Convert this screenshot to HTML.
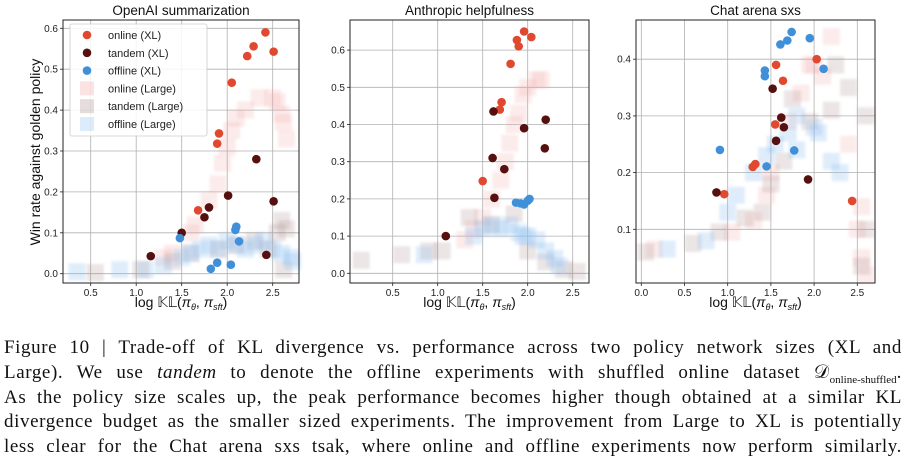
<!DOCTYPE html>
<html><head><meta charset="utf-8"><style>
body{margin:0;width:908px;height:466px;background:#fff;overflow:hidden;font-family:"Liberation Sans",sans-serif}
#cap{position:absolute;left:4px;top:336px;width:898px;font-family:"Liberation Serif",serif;font-size:19px;letter-spacing:0.6px;line-height:24.8px;color:#111}
#cap div{text-align:justify;text-align-last:justify;white-space:nowrap;height:24.8px}
#cap sub{font-size:11px;line-height:0;letter-spacing:0}
</style></head><body>
<svg id="chart" width="908" height="325" style="position:absolute;left:0;top:0" font-family="Liberation Sans, DejaVu Sans, sans-serif"></svg>
<div id="cap">
<div>Figure 10 | Trade-off of KL divergence vs. performance across two policy network sizes (XL and</div>
<div>Large). We use <i>tandem</i> to denote the offline experiments with shuffled online dataset 𝒟<sub>online-shuffled</sub>.</div>
<div>As the policy size scales up, the peak performance becomes higher though obtained at a similar KL</div>
<div>divergence budget as the smaller sized experiments. The improvement from Large to XL is potentially</div>
<div>less clear for the Chat arena sxs tsak, where online and offline experiments now perform similarly.</div>
</div>
<script>
// Panel 1: OpenAI summarization
const p1OnlineXL=[[1.68,0.155],[1.89,0.318],[1.91,0.343],[2.05,0.467],[2.22,0.532],[2.29,0.556],[2.42,0.59],[2.51,0.543]];
const p1TandemXL=[[1.16,0.043],[1.5,0.1],[1.75,0.138],[1.8,0.162],[2.01,0.191],[2.32,0.28],[2.43,0.046],[2.51,0.177]];
const p1OfflineXL=[[1.48,0.087],[1.82,0.012],[1.89,0.027],[2.04,0.022],[2.09,0.107],[2.1,0.115],[2.13,0.079]];
const p1OnlineL=[[1.3,0.04],[1.4,0.05],[1.6,0.1],[1.65,0.12],[1.8,0.18],[1.9,0.22],[1.95,0.27],[2.0,0.31],[2.05,0.35],[2.1,0.38],[2.2,0.4],[2.35,0.43],[2.5,0.43],[2.55,0.42],[2.6,0.39],[2.62,0.37],[2.65,0.33]];
const p1TandemL=[[0.55,0.003],[1.05,0.01],[1.4,0.03],[1.6,0.05],[1.9,0.06],[2.1,0.07],[2.3,0.08],[2.55,0.1],[2.6,0.13],[2.65,0.11],[2.62,0.01],[2.45,0.06]];
const p1OfflineL=[[0.35,0.005],[0.82,0.01],[1.1,0.01],[1.3,0.02],[1.5,0.04],[1.6,0.05],[1.7,0.06],[1.8,0.07],[1.9,0.06],[2.0,0.08],[2.1,0.07],[2.2,0.06],[2.3,0.07],[2.4,0.08],[2.5,0.06],[2.6,0.05],[2.7,0.04],[2.72,0.03]];
const p1XTicks=[0.5,1.0,1.5,2.0,2.5];
const p1YTicks=[0.0,0.1,0.2,0.3,0.4,0.5,0.6];
// Panel 2: Anthropic helpfulness
const p2OnlineXL=[[1.5,0.248],[1.69,0.44],[1.71,0.46],[1.81,0.563],[1.88,0.627],[1.9,0.61],[1.96,0.65],[2.04,0.635]];
const p2TandemXL=[[1.09,0.1],[1.61,0.31],[1.62,0.435],[1.63,0.203],[1.74,0.28],[1.96,0.39],[2.19,0.336],[2.2,0.413]];
const p2OfflineXL=[[1.87,0.19],[1.92,0.188],[1.96,0.185],[2.0,0.195],[2.02,0.2]];
const p2OnlineL=[[1.3,0.09],[1.4,0.12],[1.5,0.15],[1.6,0.2],[1.7,0.25],[1.75,0.3],[1.8,0.35],[1.85,0.4],[1.9,0.43],[1.95,0.48],[2.0,0.5],[2.1,0.52],[2.15,0.52]];
const p2TandemL=[[0.15,0.035],[0.6,0.05],[0.9,0.06],[1.05,0.06],[1.35,0.15],[1.6,0.13],[1.85,0.16],[2.0,0.06],[2.2,0.03],[2.4,0.01],[2.55,0.005]];
const p2OfflineL=[[0.85,0.05],[1.4,0.1],[1.5,0.12],[1.6,0.13],[1.7,0.12],[1.8,0.13],[1.9,0.11],[1.95,0.1],[2.0,0.1],[2.1,0.09],[2.2,0.06],[2.3,0.04],[2.35,0.02]];
const p2XTicks=[0.5,1.0,1.5,2.0,2.5];
const p2YTicks=[0.0,0.1,0.2,0.3,0.4,0.5,0.6];
// Panel 3: Chat arena sxs
const p3OnlineXL=[[0.96,0.162],[1.29,0.21],[1.32,0.215],[1.55,0.285],[1.56,0.39],[1.64,0.362],[2.03,0.4],[2.44,0.15]];
const p3TandemXL=[[0.87,0.165],[1.52,0.348],[1.62,0.297],[1.65,0.28],[1.93,0.188],[1.56,0.256]];
const p3OfflineXL=[[0.91,0.24],[1.43,0.37],[1.43,0.38],[1.61,0.426],[1.69,0.433],[1.74,0.448],[1.95,0.437],[2.11,0.383],[1.77,0.239],[1.45,0.211]];
const p3OnlineL=[[0.15,0.065],[1.05,0.095],[1.3,0.115],[1.45,0.16],[1.5,0.2],[1.7,0.29],[1.85,0.34],[1.95,0.39],[2.0,0.39],[2.1,0.37],[2.2,0.44],[2.4,0.25],[2.55,0.14],[2.5,0.1],[2.55,0.05],[2.6,0.02]];
const p3TandemL=[[0.05,0.06],[0.6,0.075],[0.9,0.095],[1.2,0.12],[1.4,0.13],[1.5,0.18],[1.65,0.22],[1.75,0.33],[1.95,0.29],[2.2,0.31],[2.25,0.39],[2.4,0.35],[2.6,0.3],[2.6,0.1],[2.55,0.035]];
const p3OfflineL=[[0.3,0.065],[0.75,0.08],[1.0,0.13],[1.1,0.16],[1.3,0.2],[1.45,0.23],[1.55,0.25],[1.7,0.27],[1.8,0.24],[2.0,0.28],[2.05,0.27],[2.2,0.22],[2.3,0.2],[1.8,0.3]];
const p3XTicks=[0.0,0.5,1.0,1.5,2.0,2.5];
const p3YTicks=[0.1,0.2,0.3,0.4];

const NS="http://www.w3.org/2000/svg";
const svg=document.getElementById('chart');
function mk(tag,attrs,parent){const e=document.createElementNS(NS,tag);for(const k in attrs)e.setAttribute(k,attrs[k]);(parent||svg).appendChild(e);return e;}
const C={on:'#e0492f',ta:'#561010',of:'#3f8fd9',onL:'#f2a3a3',taL:'#a88a8a',ofL:'#8cc0ef'};
const defs=mk('defs',{});
const flt=mk('filter',{id:'blur',x:'-50%',y:'-50%',width:'200%',height:'200%'},defs);
mk('feGaussianBlur',{stdDeviation:1.2},flt);

const panels=[
 {name:'openai-summarization',title:'OpenAI summarization',L:63,R:299,T:20,B:283,x0:0.5,px0:90.7,xs:91,y0:0,py0:273.7,ys:409,xt:p1XTicks,yt:p1YTicks,
  d:[p1OnlineL,p1TandemL,p1OfflineL,p1OnlineXL,p1TandemXL,p1OfflineXL]},
 {name:'anthropic-helpfulness',title:'Anthropic helpfulness',L:350,R:589,T:20,B:283,x0:0.5,px0:392.7,xs:90,y0:0,py0:273.3,ys:372,xt:p2XTicks,yt:p2YTicks,
  d:[p2OnlineL,p2TandemL,p2OfflineL,p2OnlineXL,p2TandemXL,p2OfflineXL]},
 {name:'chat-arena-sxs',title:'Chat arena sxs',L:636,R:875,T:20,B:283,x0:0,px0:641.3,xs:86.4,y0:0.1,py0:229.3,ys:567,xt:p3XTicks,yt:p3YTicks,
  d:[p3OnlineL,p3TandemL,p3OfflineL,p3OnlineXL,p3TandemXL,p3OfflineXL]}
];
const keys=['onL','taL','ofL','on','ta','of'];
const snames=['online-large','tandem-large','offline-large','online-xl','tandem-xl','offline-xl'];
panels.forEach(p=>{
 const g=mk('g',{});
 
 
 const X=v=>p.px0+(v-p.x0)*p.xs, Y=v=>p.py0-(v-p.y0)*p.ys;
 p.xt.forEach(t=>{const x=X(t);
  const l=mk('line',{x1:x,x2:x,y1:p.T,y2:p.B,stroke:'#b0b0b0','stroke-width':0.8},g);
  
  mk('line',{x1:x,x2:x,y1:p.B,y2:p.B+3,stroke:'#222','stroke-width':0.8},g);
  const tx=mk('text',{x:x,y:p.B+13,'font-size':10,'text-anchor':'middle',fill:'#222'},g);tx.textContent=t.toFixed(1);
  });
 p.yt.forEach(t=>{const y=Y(t);
  const l=mk('line',{x1:p.L,x2:p.R,y1:y,y2:y,stroke:'#b0b0b0','stroke-width':0.8},g);
  
  mk('line',{x1:p.L-3,x2:p.L,y1:y,y2:y,stroke:'#222','stroke-width':0.8},g);
  const tx=mk('text',{x:p.L-5,y:y+3.5,'font-size':10,'text-anchor':'end',fill:'#222'},g);tx.textContent=t.toFixed(1);
  });
 p.d.forEach((arr,i)=>{arr.forEach(pt=>{const x=X(pt[0]),y=Y(pt[1]);let e;
  if(i<3){e=mk('rect',{x:x-8.5,y:y-8.5,width:17,height:17,fill:C[keys[i]],'fill-opacity':i==2?0.28:0.22,filter:'url(#blur)'},g);}
  else{e=mk('circle',{cx:x,cy:y,r:4.3,fill:C[keys[i]]},g);}
  });});
 const fr=mk('rect',{x:p.L,y:p.T,width:p.R-p.L,height:p.B-p.T,fill:'none',stroke:'#222','stroke-width':1},g);
 
 const tt=mk('text',{x:(p.L+p.R)/2,y:15,'font-size':13.5,'text-anchor':'middle',fill:'#111'},g);tt.textContent=p.title;
 
 const xl=mk('text',{x:(p.L+p.R)/2,y:307,'font-size':14,'text-anchor':'middle',fill:'#111'},g);
 xl.innerHTML='log 𝕂𝕃(<tspan font-style="italic">π</tspan><tspan font-size="9" dy="3" font-style="italic">θ</tspan><tspan dy="-3">, </tspan><tspan font-style="italic">π</tspan><tspan font-size="9" dy="3" font-style="italic">sft</tspan><tspan dy="-3">)</tspan>';
 
});
const yl=mk('text',{x:0,y:0,'font-size':14,'text-anchor':'middle',fill:'#111',transform:'translate(40,152) rotate(-90)'});
yl.textContent='Win rate against golden policy';

// legend
const lg=mk('g',{});

mk('rect',{x:70,y:24,width:137,height:112,fill:'#fff','fill-opacity':0.85,stroke:'#ccc','stroke-width':0.8,rx:2},lg);
const labs=['online (XL)','tandem (XL)','offline (XL)','online (Large)','tandem (Large)','offline (Large)'];
const lk=['on','ta','of','onL','taL','ofL'];
labs.forEach((t,i)=>{const y=35+i*17.8;
 const e=i<3?mk('circle',{cx:87,cy:y,r:4.3,fill:C[lk[i]]},lg):mk('rect',{x:80,y:y-7,width:14,height:14,fill:C[lk[i]],'fill-opacity':0.3},lg);
 
 const tx=mk('text',{x:108,y:y+4,'font-size':11,fill:'#222'},lg);tx.textContent=t;
 });
</script>
</body></html>
